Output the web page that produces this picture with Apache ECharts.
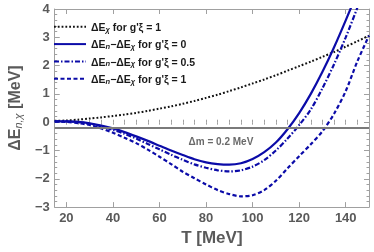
<!DOCTYPE html>
<html><head><meta charset="utf-8">
<script src="https://cdn.jsdelivr.net/npm/echarts@6/dist/echarts.min.js"></script>
<style>html,body{margin:0;padding:0;background:#fff}#c{width:374px;height:252px}</style>
</head><body><div id="c"></div>
<script>
// Temperature grid (MeV)
const T = [15,20,25,30,35,40,45,50,55,60,65,70,75,80,85,90,95,100,105,110,115,120,125,130,135,140,145,150];
// ΔE_χ for g'ξ = 1
const dEchi_g1 = [0.05,0.06,0.09,0.13,0.17,0.22,0.27,0.33,0.40,0.48,0.56,0.65,0.75,0.86,0.97,1.10,1.23,1.37,1.51,1.66,1.82,1.98,2.14,2.31,2.48,2.67,2.86,3.06];
// ΔE_n − ΔE_χ for g'ξ = 0
const dEn_g0 = [0.03,0.03,0.01,-0.04,-0.12,-0.22,-0.35,-0.50,-0.66,-0.83,-1.00,-1.16,-1.31,-1.42,-1.48,-1.50,-1.45,-1.30,-1.06,-0.72,-0.25,0.32,1.00,1.78,2.65,3.60,4.60,5.70];
// ΔE_n − ΔE_χ for g'ξ = 0.5
const dEn_g05 = [0.03,0.03,0.00,-0.06,-0.15,-0.27,-0.41,-0.58,-0.77,-0.96,-1.15,-1.33,-1.49,-1.61,-1.70,-1.74,-1.70,-1.57,-1.34,-1.00,-0.58,-0.10,0.45,1.20,2.05,3.00,4.05,5.20];
// ΔE_n − ΔE_χ for g'ξ = 1
const dEn_g1 = [0.02,0.01,-0.03,-0.10,-0.22,-0.37,-0.55,-0.74,-0.97,-1.22,-1.48,-1.75,-1.98,-2.20,-2.40,-2.54,-2.62,-2.58,-2.40,-2.07,-1.63,-1.20,-0.78,-0.32,0.30,1.10,2.15,3.06];
// Δm threshold line
const deltaM = -0.2;
const deltaMLabel = 'Δm = 0.2 MeV';
const deltaMLabelPos = [[72.5, -0.7]];
// tick labels
const xTicks = [20,40,60,80,100,120,140];
const yTicks = [-3,-2,-1,0,1,2,3,4];

const pair = ys => T.map((t,i)=>[t, ys[i]]);
const FONT = 'Liberation Sans';
const frame = {show:true, onZero:false, lineStyle:{color:'#a0a0a0', width:1}};
const tickStyle = {color:'#a0a0a0', width:1};
const blue = '#0b0ba8';

const names = ['chi1','n0','n05','n1'];
const legendText = {
  chi1: '{b|ΔE}{s|χ}{b| for g\'ξ = 1}',
  n0:  '{b|ΔE}{s|n}{b|−ΔE}{s|χ}{b| for g\'ξ = 0}',
  n05: '{b|ΔE}{s|n}{b|−ΔE}{s|χ}{b| for g\'ξ = 0.5}',
  n1:  '{b|ΔE}{s|n}{b|−ΔE}{s|χ}{b| for g\'ξ = 1}'
};

const chart = echarts.init(document.getElementById('c'), null, {renderer:'canvas'});
chart.setOption({
  animation:false,
  grid:{left:45, right:5, top:9, bottom:43},
  legend:{
    orient:'vertical', left:48, top:17, itemGap:5.5, itemWidth:32, itemHeight:12,
    data:names,
    itemStyle:{opacity:0},
    formatter: n => legendText[n],
    textStyle:{fontFamily:FONT, color:'#1a1a1a', rich:{
      b:{fontSize:10.5, fontWeight:'bold', fontFamily:FONT, lineHeight:14, verticalAlign:'bottom'},
      s:{fontSize:7.5, fontStyle:'italic', fontWeight:'bold', fontFamily:FONT, lineHeight:8, verticalAlign:'bottom'}
    }}
  },
  xAxis:[
    {type:'value', min:15, max:150, position:'bottom', axisLine:frame,
     axisTick:{inside:true, length:5, customValues:xTicks, lineStyle:tickStyle},
     axisLabel:{customValues:xTicks, color:'#5a5a5a', fontFamily:FONT, fontWeight:'bold', fontSize:13, margin:5},
     splitLine:{show:false},
     name:'T [MeV]', nameLocation:'middle', nameGap:22,
     nameTextStyle:{color:'#5a5a5a', fontFamily:FONT, fontWeight:'bold', fontSize:17}},
    {type:'value', min:15, max:150, interval:5, position:'bottom', axisLine:{show:false},
     axisTick:{inside:true, length:2.5, lineStyle:tickStyle}, axisLabel:{show:false}, splitLine:{show:false}},
    {type:'value', min:15, max:150, position:'top', axisLine:frame,
     axisTick:{inside:true, length:5, customValues:xTicks, lineStyle:tickStyle},
     axisLabel:{show:false}, splitLine:{show:false}},
    {type:'value', min:15, max:150, interval:5, position:'top', axisLine:{show:false},
     axisTick:{inside:true, length:2.5, lineStyle:tickStyle}, axisLabel:{show:false}, splitLine:{show:false}}
  ],
  yAxis:[
    {type:'value', min:-3, max:4, interval:1, position:'left', axisLine:frame,
     axisTick:{inside:true, length:5, lineStyle:tickStyle},
     minorTick:{show:true, splitNumber:5, length:2.5, lineStyle:tickStyle},
     axisLabel:{color:'#5a5a5a', fontFamily:FONT, fontWeight:'bold', fontSize:13, margin:5,
       formatter: v => (v<0 ? '\u2212'+(-v) : ''+v)},
     splitLine:{show:false},
     name:'{b|ΔE}{s|n,χ}{b| [MeV]}', nameLocation:'middle', nameGap:21, nameRotate:90,
     nameTextStyle:{color:'#5a5a5a', rich:{
       b:{fontSize:16, fontWeight:'bold', fontFamily:FONT, color:'#5a5a5a', lineHeight:18, verticalAlign:'bottom'},
       s:{fontSize:11, fontStyle:'italic', fontFamily:FONT, color:'#5a5a5a', lineHeight:10, verticalAlign:'bottom'}
     }}},
    {type:'value', min:-3, max:4, interval:1, position:'right', axisLine:frame,
     axisTick:{inside:true, length:5, lineStyle:tickStyle},
     minorTick:{show:true, splitNumber:5, length:2.5, lineStyle:tickStyle},
     axisLabel:{show:false}, splitLine:{show:false}}
  ],
  series:[
    {name:'threshold', type:'line', data:[], silent:true,
     markLine:{silent:true, symbol:'none', label:{show:false},
       lineStyle:{color:'#7a7a7a', width:2, type:'solid'}, data:[{yAxis:deltaM}]}},
    {name:'mlabel', type:'scatter', data:deltaMLabelPos, symbolSize:0, silent:true,
     label:{show:true, position:'right', distance:0, formatter:deltaMLabel,
       fontFamily:FONT, fontWeight:'bold', fontSize:10, color:'#444'}},
    {name:'chi1', type:'line', data:pair(dEchi_g1), smooth:0.3, symbol:'none', clip:true,
     lineStyle:{color:'#111', width:2, type:[1.8,2]}, itemStyle:{color:'#111'}},
    {name:'n0', type:'line', data:pair(dEn_g0), smooth:0.3, symbol:'none', clip:true,
     lineStyle:{color:blue, width:2.2, type:'solid'}, itemStyle:{color:blue}},
    {name:'n05', type:'line', data:pair(dEn_g05), smooth:0.3, symbol:'none', clip:true,
     lineStyle:{color:blue, width:2.2, type:[5,2,1.5,2]}, itemStyle:{color:blue}},
    {name:'n1', type:'line', data:pair(dEn_g1), smooth:0.3, symbol:'none', clip:true,
     lineStyle:{color:blue, width:2.2, type:[4,2.5]}, itemStyle:{color:blue}}
  ]
});
</script></body></html>
